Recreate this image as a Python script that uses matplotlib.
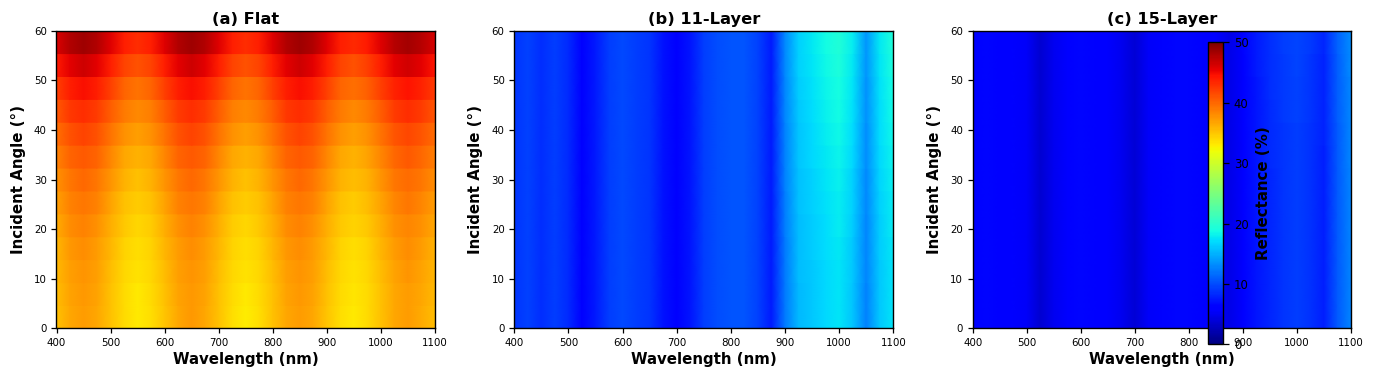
import numpy as np
import matplotlib
matplotlib.use("Agg")
import matplotlib.pyplot as plt

# ---------------- data ----------------
wavelengths = [400, 425, 450, 475, 500, 525, 550, 575, 600, 625, 650, 675, 700, 725,
               750, 775, 800, 825, 850, 875, 900, 925, 950, 975, 1000, 1025, 1050, 1075, 1100]
angles = [0, 5, 10, 15, 20, 25, 30, 35, 40, 45, 50, 55, 60]

flat_R = [
    [35.3, 36.6, 37.3, 36.7, 35.2, 33.8, 33.1, 33.7, 35.1, 36.7, 37.4, 36.7, 35.2, 33.7, 33.0, 33.7, 35.2, 36.7, 37.3, 36.6, 35.1, 33.7, 33.2, 33.8, 35.2, 36.6, 37.2, 36.5, 35.5],
    [35.4, 36.8, 37.4, 36.8, 35.3, 33.8, 33.2, 33.8, 35.3, 36.8, 37.4, 36.8, 35.3, 33.8, 33.2, 33.8, 35.3, 36.8, 37.4, 36.8, 35.3, 33.8, 33.3, 33.9, 35.3, 36.7, 37.3, 36.6, 35.6],
    [35.6, 37.0, 37.6, 37.0, 35.5, 34.0, 33.4, 34.0, 35.5, 37.0, 37.6, 37.0, 35.5, 34.0, 33.4, 34.0, 35.5, 37.0, 37.6, 37.0, 35.5, 34.0, 33.5, 34.1, 35.5, 36.9, 37.5, 36.8, 35.8],
    [35.9, 37.4, 38.0, 37.3, 35.8, 34.3, 33.6, 34.2, 35.8, 37.3, 38.0, 37.3, 35.8, 34.2, 33.6, 34.3, 35.8, 37.4, 38.0, 37.3, 35.8, 34.3, 33.7, 34.3, 35.8, 37.3, 37.9, 37.2, 36.1],
    [36.4, 37.9, 38.5, 37.8, 36.3, 34.8, 34.1, 34.7, 36.3, 37.8, 38.5, 37.8, 36.3, 34.7, 34.1, 34.8, 36.3, 37.9, 38.5, 37.8, 36.3, 34.8, 34.2, 34.8, 36.3, 37.8, 38.4, 37.7, 36.6],
    [37.0, 38.5, 39.2, 38.5, 36.9, 35.3, 34.6, 35.3, 36.9, 38.5, 39.2, 38.5, 36.9, 35.3, 34.6, 35.3, 36.9, 38.5, 39.2, 38.5, 36.9, 35.3, 34.7, 35.4, 36.9, 38.4, 39.1, 38.4, 37.2],
    [37.7, 39.2, 39.9, 39.2, 37.6, 36.0, 35.3, 36.0, 37.6, 39.2, 39.9, 39.2, 37.6, 36.0, 35.3, 36.0, 37.6, 39.2, 39.9, 39.2, 37.6, 36.0, 35.4, 36.1, 37.6, 39.1, 39.8, 39.1, 37.9],
    [38.5, 40.1, 40.8, 40.1, 38.4, 36.7, 36.0, 36.7, 38.4, 40.1, 40.8, 40.1, 38.4, 36.7, 36.0, 36.7, 38.4, 40.1, 40.8, 40.1, 38.4, 36.7, 36.1, 36.8, 38.4, 40.0, 40.7, 40.0, 38.7],
    [39.5, 41.1, 41.8, 41.1, 39.4, 37.7, 37.0, 37.7, 39.4, 41.1, 41.8, 41.1, 39.4, 37.7, 37.0, 37.7, 39.4, 41.1, 41.8, 41.1, 39.4, 37.7, 37.1, 37.8, 39.4, 41.0, 41.7, 41.0, 39.7],
    [40.7, 42.4, 43.1, 42.3, 40.6, 38.9, 38.1, 38.8, 40.6, 42.3, 43.1, 42.3, 40.6, 38.8, 38.1, 38.9, 40.6, 42.4, 43.1, 42.3, 40.6, 38.9, 38.2, 38.9, 40.6, 42.3, 43.0, 42.2, 40.9],
    [42.1, 43.8, 44.6, 43.8, 42.0, 40.2, 39.4, 40.2, 42.0, 43.8, 44.6, 43.8, 42.0, 40.2, 39.4, 40.2, 42.0, 43.8, 44.6, 43.8, 42.0, 40.2, 39.5, 40.3, 42.0, 43.7, 44.5, 43.7, 42.3],
    [44.0, 45.7, 46.5, 45.7, 43.8, 41.9, 41.1, 41.9, 43.8, 45.7, 46.5, 45.7, 43.8, 41.9, 41.1, 41.9, 43.8, 45.7, 46.5, 45.7, 43.8, 41.9, 41.2, 42.0, 43.8, 45.6, 46.4, 45.6, 44.2],
    [46.0, 47.7, 48.5, 47.7, 45.8, 43.9, 43.1, 43.9, 45.8, 47.7, 48.5, 47.7, 45.8, 43.9, 43.1, 43.9, 45.8, 47.7, 48.5, 47.7, 45.8, 43.9, 43.2, 44.0, 45.8, 47.6, 48.4, 47.6, 46.2],
]

layer11_R = [
    [8.9, 9.4, 8.4, 9.3, 8.3, 6.0, 7.5, 9.3, 9.8, 9.3, 8.8, 7.1, 5.9, 7.4, 9.3, 10.0, 10.4, 10.5, 9.4, 7.6, 12.2, 15.4, 16.1, 16.8, 17.4, 16.0, 12.6, 16.1, 17.4],
    [8.9, 9.4, 8.4, 9.3, 8.3, 6.0, 7.5, 9.3, 9.8, 9.3, 8.8, 7.1, 5.9, 7.4, 9.3, 10.0, 10.4, 10.5, 9.4, 7.6, 12.2, 15.4, 16.1, 16.8, 17.4, 16.0, 12.6, 16.1, 17.4],
    [8.9, 9.4, 8.4, 9.3, 8.3, 6.0, 7.5, 9.3, 9.8, 9.3, 8.8, 7.1, 5.9, 7.4, 9.3, 10.0, 10.4, 10.5, 9.4, 7.6, 12.3, 15.5, 16.2, 16.9, 17.5, 16.1, 12.7, 16.2, 17.5],
    [8.9, 9.4, 8.4, 9.3, 8.3, 6.0, 7.5, 9.3, 9.8, 9.3, 8.8, 7.1, 5.9, 7.4, 9.3, 10.0, 10.4, 10.5, 9.4, 7.6, 12.3, 15.5, 16.3, 17.0, 17.6, 16.2, 12.7, 16.3, 17.6],
    [8.9, 9.4, 8.4, 9.3, 8.3, 6.0, 7.5, 9.3, 9.8, 9.3, 8.8, 7.1, 5.9, 7.4, 9.3, 10.0, 10.4, 10.5, 9.4, 7.6, 12.4, 15.6, 16.4, 17.1, 17.8, 16.3, 12.8, 16.4, 17.8],
    [8.9, 9.4, 8.4, 9.3, 8.3, 6.0, 7.5, 9.3, 9.8, 9.3, 8.8, 7.1, 5.9, 7.4, 9.3, 10.0, 10.4, 10.5, 9.4, 7.6, 12.4, 15.7, 16.5, 17.3, 17.9, 16.5, 12.9, 16.5, 17.9],
    [8.9, 9.4, 8.4, 9.3, 8.3, 6.0, 7.5, 9.3, 9.8, 9.3, 8.8, 7.1, 5.9, 7.4, 9.3, 10.0, 10.4, 10.5, 9.4, 7.6, 12.5, 15.8, 16.6, 17.4, 18.1, 16.6, 13.0, 16.7, 18.1],
    [8.9, 9.4, 8.4, 9.3, 8.3, 6.0, 7.5, 9.3, 9.8, 9.3, 8.8, 7.1, 5.9, 7.4, 9.3, 10.0, 10.4, 10.5, 9.4, 7.6, 12.6, 15.9, 16.8, 17.6, 18.3, 16.8, 13.1, 16.8, 18.3],
    [8.9, 9.4, 8.4, 9.3, 8.3, 6.0, 7.5, 9.3, 9.8, 9.3, 8.8, 7.1, 5.9, 7.4, 9.3, 10.0, 10.4, 10.5, 9.4, 7.6, 12.6, 16.0, 16.9, 17.8, 18.5, 17.0, 13.1, 17.0, 18.5],
    [8.9, 9.4, 8.4, 9.3, 8.3, 6.0, 7.5, 9.3, 9.8, 9.3, 8.8, 7.1, 5.9, 7.4, 9.3, 10.0, 10.4, 10.5, 9.4, 7.6, 12.7, 16.2, 17.1, 18.0, 18.7, 17.2, 13.3, 17.1, 18.7],
    [8.9, 9.4, 8.4, 9.3, 8.3, 6.0, 7.5, 9.3, 9.8, 9.3, 8.8, 7.1, 5.9, 7.4, 9.3, 10.0, 10.4, 10.5, 9.4, 7.6, 12.8, 16.3, 17.2, 18.2, 18.9, 17.4, 13.4, 17.3, 18.9],
    [8.9, 9.4, 8.4, 9.3, 8.3, 6.0, 7.5, 9.3, 9.8, 9.3, 8.8, 7.1, 5.9, 7.4, 9.3, 10.0, 10.4, 10.5, 9.4, 7.6, 12.9, 16.5, 17.4, 18.4, 19.2, 17.6, 13.5, 17.5, 19.2],
    [8.9, 9.4, 8.4, 9.3, 8.3, 6.0, 7.5, 9.3, 9.8, 9.3, 8.8, 7.1, 5.9, 7.4, 9.3, 10.0, 10.4, 10.5, 9.4, 7.6, 13.0, 16.6, 17.6, 18.6, 19.4, 17.8, 13.6, 17.7, 19.4],
]

layer15_R = [
    [6.3, 6.5, 5.9, 6.4, 5.3, 3.6, 5.0, 6.1, 6.5, 6.4, 5.9, 4.9, 3.9, 5.3, 6.3, 6.6, 6.5, 6.3, 5.6, 4.6, 6.1, 7.3, 8.2, 8.8, 9.2, 8.6, 7.8, 10.6, 12.8],
    [6.3, 6.5, 5.9, 6.4, 5.3, 3.6, 5.0, 6.1, 6.5, 6.4, 5.9, 4.9, 3.9, 5.3, 6.3, 6.6, 6.5, 6.3, 5.6, 4.6, 6.1, 7.3, 8.2, 8.8, 9.2, 8.6, 7.8, 10.6, 12.8],
    [6.3, 6.5, 5.9, 6.4, 5.3, 3.6, 5.0, 6.1, 6.5, 6.4, 5.9, 4.9, 3.9, 5.3, 6.3, 6.6, 6.5, 6.3, 5.6, 4.6, 6.1, 7.3, 8.2, 8.8, 9.2, 8.6, 7.8, 10.6, 12.8],
    [6.3, 6.5, 5.9, 6.4, 5.3, 3.6, 5.0, 6.1, 6.5, 6.4, 5.9, 4.9, 3.9, 5.3, 6.3, 6.6, 6.5, 6.3, 5.6, 4.6, 6.1, 7.3, 8.2, 8.8, 9.2, 8.6, 7.8, 10.6, 12.8],
    [6.3, 6.5, 5.9, 6.4, 5.3, 3.6, 5.0, 6.1, 6.5, 6.4, 5.9, 4.9, 3.9, 5.3, 6.3, 6.6, 6.5, 6.3, 5.6, 4.6, 6.1, 7.3, 8.2, 8.8, 9.2, 8.6, 7.8, 10.6, 12.8],
    [6.3, 6.5, 5.9, 6.4, 5.3, 3.6, 5.0, 6.1, 6.5, 6.4, 5.9, 4.9, 3.9, 5.3, 6.3, 6.6, 6.5, 6.3, 5.6, 4.6, 6.1, 7.3, 8.2, 8.8, 9.2, 8.6, 7.8, 10.6, 12.8],
    [6.3, 6.5, 5.9, 6.4, 5.3, 3.6, 5.0, 6.1, 6.5, 6.4, 5.9, 4.9, 3.9, 5.3, 6.3, 6.6, 6.5, 6.3, 5.6, 4.6, 6.1, 7.3, 8.2, 8.8, 9.2, 8.6, 7.8, 10.6, 12.8],
    [6.3, 6.5, 5.9, 6.4, 5.3, 3.6, 5.0, 6.1, 6.5, 6.4, 5.9, 4.9, 3.9, 5.3, 6.3, 6.6, 6.5, 6.3, 5.6, 4.6, 6.1, 7.3, 8.3, 8.9, 9.3, 8.7, 7.8, 10.7, 12.9],
    [6.3, 6.5, 5.9, 6.4, 5.3, 3.6, 5.0, 6.1, 6.5, 6.4, 5.9, 4.9, 3.9, 5.3, 6.3, 6.6, 6.5, 6.3, 5.6, 4.6, 6.1, 7.3, 8.3, 8.9, 9.3, 8.7, 7.9, 10.7, 12.9],
    [6.3, 6.5, 5.9, 6.4, 5.3, 3.6, 5.0, 6.1, 6.5, 6.4, 5.9, 4.9, 3.9, 5.3, 6.3, 6.6, 6.5, 6.3, 5.6, 4.6, 6.2, 7.4, 8.3, 9.0, 9.4, 8.8, 7.9, 10.8, 13.0],
    [6.3, 6.5, 5.9, 6.4, 5.3, 3.6, 5.0, 6.1, 6.5, 6.4, 5.9, 4.9, 3.9, 5.3, 6.3, 6.6, 6.5, 6.3, 5.6, 4.6, 6.2, 7.4, 8.4, 9.0, 9.5, 8.8, 8.0, 10.8, 13.0],
    [6.3, 6.5, 5.9, 6.4, 5.3, 3.6, 5.0, 6.1, 6.5, 6.4, 5.9, 4.9, 3.9, 5.3, 6.3, 6.6, 6.5, 6.3, 5.6, 4.6, 6.2, 7.5, 8.4, 9.1, 9.6, 8.9, 8.0, 10.9, 13.1],
    [6.3, 6.5, 5.9, 6.4, 5.3, 3.6, 5.0, 6.1, 6.5, 6.4, 5.9, 4.9, 3.9, 5.3, 6.3, 6.6, 6.5, 6.3, 5.6, 4.6, 6.3, 7.5, 8.5, 9.2, 9.7, 9.0, 8.1, 11.0, 13.2],
]

titles = ["(a) Flat", "(b) 11-Layer", "(c) 15-Layer"]
cbar_ticks = [0, 10, 20, 30, 40, 50]

# ---------------- plotting ----------------
plt.rcParams['font.family'] = ['DejaVu Sans']
W, H = 1375, 383
fig = plt.figure(figsize=(W / 100, H / 100), dpi=100)

def px_axes(l, r, t, b):
    return fig.add_axes([l / W, 1 - b / H, (r - l) / W, (b - t) / H])

axes_px = [(56.5, 435, 30.7, 328.3), (514.3, 893.3, 30.7, 328.3), (972.7, 1351, 30.7, 328.3)]

wl = np.asarray(wavelengths, float)
n_rows = len(angles)
edges = np.linspace(0, 60, n_rows + 1)

mesh = None
for (l, r, t, b), data, title in zip(axes_px, [flat_R, layer11_R, layer15_R], titles):
    ax = px_axes(l, r, t, b)
    Z = np.asarray(data, float)
    # blocky rows in angle, smooth along wavelength
    C = np.repeat(Z, 2, axis=0)
    Yv = np.repeat(np.column_stack([edges[:-1], edges[1:]]).ravel()[:, None], len(wl), axis=1)
    Xv = np.tile(wl, (2 * n_rows, 1))
    mesh = ax.pcolormesh(Xv, Yv, C, shading='gouraud', cmap='jet', vmin=0, vmax=50,
                         rasterized=True)
    ax.set_xlim(400, 1100)
    ax.set_ylim(0, 60)
    ax.set_xticks([400, 500, 600, 700, 800, 900, 1000, 1100])
    ax.set_yticks([0, 10, 20, 30, 40, 50, 60])
    ax.tick_params(labelsize=7.4, length=3.5, width=0.9, direction='out')
    ax.set_xlabel("Wavelength (nm)", fontsize=10.8, fontweight='bold', labelpad=3)
    ax.set_ylabel("Incident Angle (°)", fontsize=10.8, fontweight='bold', labelpad=6)
    ax.set_title(title, fontsize=11.7, fontweight='bold', pad=5)
    for s in ax.spines.values():
        s.set_linewidth(1.0)

cax = px_axes(1207.7, 1222.7, 42.3, 344.3)
cb = fig.colorbar(mesh, cax=cax, ticks=cbar_ticks)
cb.ax.tick_params(labelsize=8.4, length=4.5, width=0.9)
cb.set_label("Reflectance (%)", fontsize=10.8, fontweight='bold', labelpad=5)
cb.outline.set_linewidth(1.0)

fig.savefig("out.png", dpi=100)
